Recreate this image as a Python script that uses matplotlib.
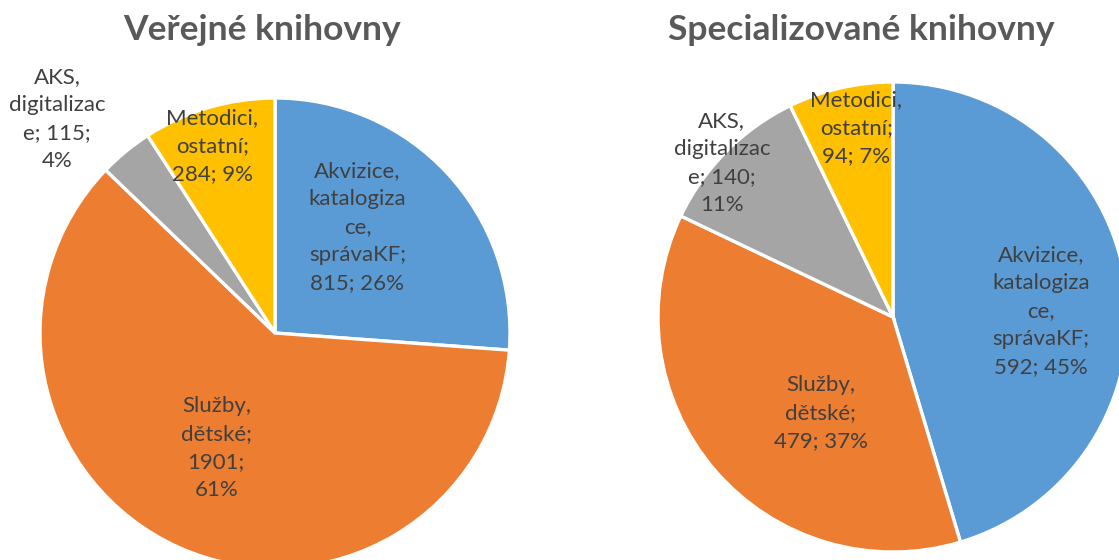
import matplotlib.pyplot as plt
import numpy as np

plt.rcParams['font.family'] = ['Lato', 'DejaVu Sans']

# data
kategorie = ["Akvizice,\nkatalogiza\nce,\nsprávaKF", "Služby,\ndětské", "AKS,\ndigitalizac\ne", "Metodici,\nostatní"]
verejne = [815, 1901, 115, 284]
specializovane = [592, 479, 140, 94]
barvy = ["#5B9BD5", "#ED7D31", "#A5A5A5", "#FFC000"]

# popisky: text pro každou výseč (zalomení jako v Excelu)
popisky_ver = ["Akvizice,\nkatalogiza\nce,\nsprávaKF;\n815; 26%",
               "Služby,\ndětské;\n1901;\n61%",
               "AKS,\ndigitalizac\ne; 115;\n4%",
               "Metodici,\nostatní;\n284; 9%"]
popisky_spec = ["Akvizice,\nkatalogiza\nce,\nsprávaKF;\n592; 45%",
                "Služby,\ndětské;\n479; 37%",
                "AKS,\ndigitalizac\ne; 140;\n11%",
                "Metodici,\nostatní;\n94; 7%"]
# umístění popisků (úhel ve stupních, vzdálenost v násobcích poloměru)
pozice_ver = [(52, 0.57), (243, 0.55), (135.5, 1.30), (108.5, 0.84)]
pozice_spec = [(2.3, 0.63), (233, 0.51), (138, 0.98), (101, 0.82)]

fig = plt.figure(figsize=(11.19, 5.6), dpi=100)
ax = fig.add_axes([0, 0, 1, 1])

R = 235

def kolac(hodnoty, popisky, pozice, stred, titulek, tx):
    ax.pie(hodnoty, colors=barvy, startangle=90, counterclock=False,
           center=stred, radius=R, frame=True,
           wedgeprops=dict(edgecolor='white', linewidth=2.4))
    for txt, (uhel, d) in zip(popisky, pozice):
        x = stred[0] + d * R * np.cos(np.radians(uhel))
        y = stred[1] + d * R * np.sin(np.radians(uhel))
        ax.text(x, y, txt, ha='center', va='center', fontsize=16,
                color='#404040', linespacing=1.5)
    ax.text(tx, 530, titulek, ha='center', va='center', fontsize=25.5,
            fontweight='bold', color='#595959')

kolac(verejne, popisky_ver, pozice_ver, (275, 227), "Veřejné knihovny", 262)
kolac(specializovane, popisky_spec, pozice_spec, (893, 243), "Specializované knihovny", 861)

ax.set_xlim(0, 1119)
ax.set_ylim(0, 560)
ax.set_aspect('auto')
ax.axis('off')

plt.savefig("out.png", dpi=100)
